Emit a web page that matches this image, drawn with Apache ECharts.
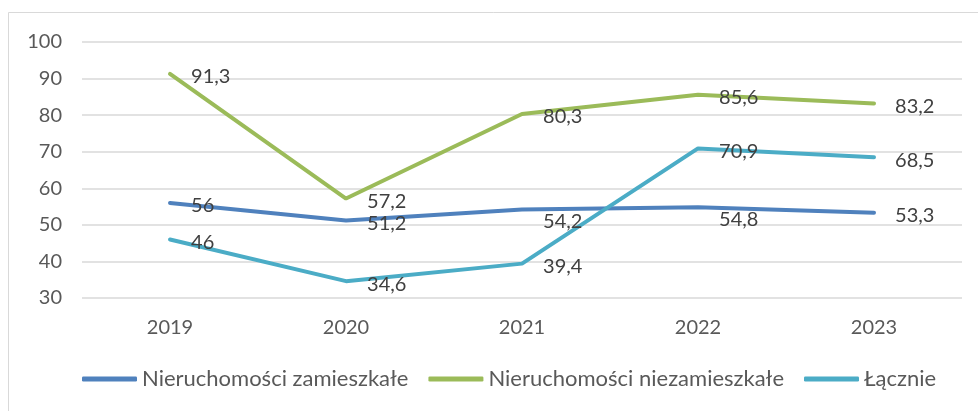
<!DOCTYPE html>
<html>
<head>
<meta charset="utf-8">
<script src="https://cdn.jsdelivr.net/npm/echarts@6/dist/echarts.min.js"></script>
<style>
  html, body { margin: 0; padding: 0; background: #fff; }
  #chart { width: 978px; height: 411px; }
</style>
</head>
<body>
<div id="chart"></div>
<script>
const years = ['2019', '2020', '2021', '2022', '2023'];
const zamieszkale = [56, 51.2, 54.2, 54.8, 53.3];
const niezamieszkale = [91.3, 57.2, 80.3, 85.6, 83.2];
const lacznie = [46, 34.6, 39.4, 70.9, 68.5];
const seriesNames = ['Nieruchomości zamieszkałe', 'Nieruchomości niezamieszkałe', 'Łącznie'];
const seriesColors = ['#4f81bd', '#9bbb59', '#4bacc6'];

const font = 'Lato, "Open Sans", sans-serif';

// labels pushed a bit lower (index in series data)
function makeSeries(name, data, color, lowIdx) {
    return {
        name: name,
        type: 'line',
        data: data.map(function (v, i) {
            if (lowIdx && lowIdx.indexOf(i) >= 0) {
                return { value: v, label: { offset: [0, 12] } };
            }
            return v;
        }),
        symbol: 'circle',
        symbolSize: 0.1,
        showSymbol: true,
        lineStyle: { color: color, width: 4, cap: 'round' },
        itemStyle: { color: color },
        label: {
            show: true,
            position: 'right',
            distance: 21,
            offset: [0, 3],
            color: '#404040',
            fontSize: 20,
            fontFamily: font,
            formatter: function (p) {
                return String(p.value).replace('.', ',');
            }
        },
        animation: false
    };
}

const myChart = echarts.init(document.getElementById('chart'));
const option = {
    backgroundColor: '#ffffff',
    graphic: [{
        type: 'rect',
        shape: { x: 8.5, y: 12.5, width: 1000, height: 420 },
        style: { fill: 'none', stroke: '#d9d9d9', lineWidth: 1 },
        silent: true
    }],
    grid: { left: 82, right: 16, top: 42, bottom: 113 },
    legend: {
        bottom: 16,
        left: 77,
        itemWidth: 55,
        itemHeight: 5,
        itemGap: 20,
        icon: 'roundRect',
        textStyle: { color: '#595959', fontSize: 22, fontFamily: font },
        data: seriesNames
    },
    xAxis: {
        type: 'category',
        data: years,
        boundaryGap: true,
        axisLine: { show: false },
        axisTick: { show: false },
        axisLabel: { color: '#595959', fontSize: 20, fontFamily: font, margin: 20 }
    },
    yAxis: {
        type: 'value',
        min: 30,
        max: 100,
        interval: 10,
        axisLine: { show: false },
        axisTick: { show: false },
        axisLabel: { color: '#595959', fontSize: 20, fontFamily: font, margin: 20 },
        splitLine: { lineStyle: { color: '#d9d9d9', width: 1.5 } }
    },
    series: [
        makeSeries(seriesNames[0], zamieszkale, seriesColors[0], [2, 3]),
        makeSeries(seriesNames[1], niezamieszkale, seriesColors[1]),
        makeSeries(seriesNames[2], lacznie, seriesColors[2])
    ]
};
myChart.setOption(option);
</script>
</body>
</html>
